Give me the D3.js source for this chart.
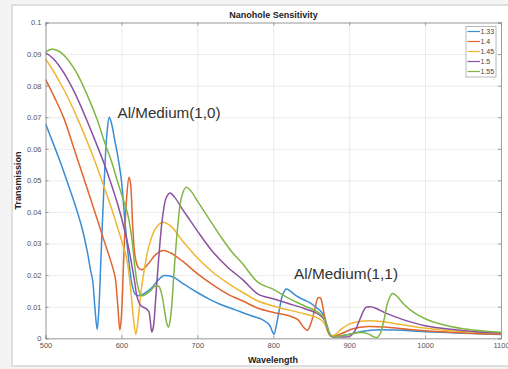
<!DOCTYPE html>
<html>
<head>
<meta charset="utf-8">
<script src="https://cdn.jsdelivr.net/npm/d3@7"></script>
<style>
  html, body { margin: 0; padding: 0; background: #ffffff; }
  svg { display: block; }
  text { font-family: "Liberation Sans", Arial, Helvetica, sans-serif; }
</style>
</head>
<body>
<svg id="chart" width="508" height="369"></svg>
<script>
// Refractive index of the medium for each spectrum
const seriesNames = ["1.33", "1.4", "1.45", "1.5", "1.55"];
const seriesColors = ["#3a8dd3", "#e0652f", "#efb631", "#8c50a0", "#80b643"];

// Wavelength (nm) and transmission samples, one pair of arrays per medium
const wl133 = [500,510,520,528,540,548,555,559,562,565,568,570,573,577,581,584,587,591,595,600,605,610,614,618,622,627,632,640,648,655,662,670,680,690,700,715,730,750,770,785,795,799,801,804,808,812,817,822,830,840,850,858,863,867,871,875,880,890,905,920,940,960,980,1000,1030,1060,1100];
const tr133 = [0.068,0.0618,0.0555,0.050,0.0415,0.035,0.0275,0.022,0.0185,0.010,0.0028,0.008,0.025,0.048,0.065,0.070,0.068,0.063,0.058,0.050,0.036,0.024,0.017,0.014,0.0135,0.0138,0.0145,0.016,0.0183,0.0198,0.0198,0.0192,0.0175,0.016,0.0145,0.0125,0.0108,0.009,0.0072,0.006,0.0042,0.002,0.0013,0.004,0.009,0.0135,0.0156,0.015,0.0135,0.0122,0.011,0.0095,0.0085,0.007,0.004,0.0012,0.0005,0.0008,0.0015,0.0023,0.0027,0.0026,0.0024,0.0021,0.0018,0.0015,0.0012];

const wl140 = [500,512,524,537,550,565,578,585,589,592,595,598,600,603,607,610,612,615,618,622,627,635,645,655,665,680,700,720,740,760,780,800,820,832,840,845,850,855,859,862,866,870,874,880,890,905,925,950,980,1020,1060,1100];
const tr140 = [0.082,0.0762,0.0698,0.0605,0.051,0.040,0.0303,0.0252,0.022,0.019,0.011,0.0026,0.007,0.025,0.045,0.051,0.049,0.035,0.026,0.0225,0.0217,0.0235,0.0265,0.0278,0.027,0.0245,0.0205,0.017,0.014,0.0118,0.0095,0.0082,0.0072,0.006,0.0035,0.0025,0.005,0.0095,0.0128,0.0128,0.009,0.004,0.0012,0.0007,0.0015,0.003,0.0037,0.0035,0.0028,0.0021,0.0016,0.0013];

const wl145 = [500,510,520,530,540,550,560,572,585,595,602,607,612,616,619,622,626,630,636,645,654,665,680,700,720,740,760,780,800,820,840,855,863,868,872,876,882,890,900,915,935,960,990,1030,1070,1100];
const tr145 = [0.0885,0.0848,0.0806,0.076,0.0708,0.0652,0.0592,0.0515,0.0425,0.035,0.0295,0.0252,0.016,0.006,0.0012,0.006,0.015,0.0215,0.029,0.0348,0.0367,0.0355,0.031,0.0255,0.021,0.0175,0.0145,0.0118,0.0102,0.009,0.0078,0.0068,0.0058,0.0045,0.002,0.0007,0.0012,0.003,0.0045,0.0054,0.0055,0.0047,0.0035,0.0025,0.0019,0.0016];

const wl150 = [500,510,520,530,540,554,565,576,585,595,605,612,617,621,626,632,636,638,640,642,645,649,654,659,664,670,680,690,700,720,740,760,780,800,820,840,855,863,868,872,876,885,895,902,908,915,922,928,935,950,970,1000,1040,1070,1100];
const tr150 = [0.0905,0.0886,0.0856,0.0817,0.077,0.0693,0.0628,0.0561,0.050,0.0425,0.0335,0.0255,0.0185,0.0128,0.0102,0.0095,0.0085,0.0055,0.002,0.0035,0.012,0.025,0.038,0.0445,0.046,0.0447,0.041,0.0375,0.034,0.0275,0.0225,0.0185,0.014,0.0125,0.011,0.0095,0.0082,0.007,0.0055,0.0025,0.0006,0.0005,0.0004,0.0008,0.0025,0.0065,0.0098,0.010,0.0095,0.0078,0.006,0.004,0.0027,0.002,0.0017];

const wl155 = [500,508,515,525,540,555,568,578,587,594,602,609,614,618,622,626,631,638,644,649,653,657,660,662,665,669,674,679,685,691,700,715,730,745,760,780,800,820,840,855,863,868,872,876,885,900,915,925,932,937,941,946,951,957,963,972,985,1000,1020,1050,1080,1100];
const tr155 = [0.0907,0.0915,0.0912,0.0895,0.0845,0.077,0.0693,0.062,0.056,0.0503,0.0443,0.0386,0.031,0.022,0.016,0.0135,0.0138,0.015,0.0165,0.0165,0.014,0.0085,0.0045,0.0035,0.007,0.020,0.035,0.0445,0.0478,0.0468,0.0435,0.038,0.0325,0.0275,0.0235,0.0177,0.0155,0.0127,0.0104,0.0088,0.0075,0.0058,0.003,0.0008,0.0006,0.0013,0.0018,0.0014,0.0005,0.0003,0.0015,0.006,0.0115,0.0142,0.0133,0.0108,0.0082,0.0062,0.0045,0.003,0.0022,0.0019];

const xTicks = [500, 600, 700, 800, 900, 1000, 1100];
const yTicks = [0, 0.01, 0.02, 0.03, 0.04, 0.05, 0.06, 0.07, 0.08, 0.09, 0.1];
const yTickLabels = ["0", "0.01", "0.02", "0.03", "0.04", "0.05", "0.06", "0.07", "0.08", "0.09", "0.1"];

const titleText = "Nanohole Sensitivity";
const xLabelText = "Wavelength";
const yLabelText = "Transmission";
const noteTexts = ["Al/Medium(1,0)", "Al/Medium(1,1)"];

const wlArrays = [wl133, wl140, wl145, wl150, wl155];
const trArrays = [tr133, tr140, tr145, tr150, tr155];
const series = seriesNames.map((name, i) => ({
  name,
  color: seriesColors[i],
  points: wlArrays[i].map((w, j) => ({ w, v: trArrays[i][j] }))
}));

const svg = d3.select("#chart");
const W = 508, H = 369;
const plot = { left: 45.5, right: 501, top: 22.5, bottom: 338.3 };

// figure window
svg.append("rect").attr("x", 0).attr("y", 0).attr("width", W).attr("height", H).attr("fill", "#f4f4f4");
svg.append("rect").attr("x", 12).attr("y", 5).attr("width", W).attr("height", 361)
  .attr("fill", "#ffffff").attr("stroke", "#d6d6d6").attr("stroke-width", 1.5);

const x = d3.scaleLinear().domain([500, 1100]).range([plot.left, plot.right]);
const y = d3.scaleLinear().domain([0, 0.1]).range([plot.bottom, plot.top]);

// grid
const grid = svg.append("g").attr("class", "grid");
grid.append("g")
  .attr("transform", `translate(0,${plot.bottom})`)
  .call(d3.axisBottom(x).tickValues(xTicks).tickSize(-(plot.bottom - plot.top)).tickFormat(""))
  .call(g => g.select(".domain").remove())
  .call(g => g.selectAll("line").attr("stroke", "#e6e6e6").attr("stroke-width", 0.8));
grid.append("g")
  .attr("transform", `translate(${plot.left},0)`)
  .call(d3.axisLeft(y).tickValues(yTicks).tickSize(-(plot.right - plot.left)).tickFormat(""))
  .call(g => g.select(".domain").remove())
  .call(g => g.selectAll("line").attr("stroke", "#e6e6e6").attr("stroke-width", 0.8));

// curves
svg.append("clipPath").attr("id", "plotClip")
  .append("rect").attr("x", plot.left).attr("y", plot.top)
  .attr("width", plot.right - plot.left).attr("height", plot.bottom - plot.top);

const line = d3.line()
  .x(d => x(d.w))
  .y(d => y(d.v))
  .curve(d3.curveCatmullRom.alpha(0.5));

svg.append("g").attr("clip-path", "url(#plotClip)")
  .selectAll("path")
  .data(series)
  .join("path")
  .attr("d", d => line(d.points))
  .attr("fill", "none")
  .attr("stroke", d => d.color)
  .attr("stroke-width", 1.5)
  .attr("stroke-linejoin", "round");

// axes (ticks point inward on all four sides)
const axisColor = "#8a8a8a";
const labelColor = "#555555";
function styleAxis(g) {
  g.select(".domain").attr("stroke", axisColor).attr("stroke-width", 0.8);
  g.selectAll(".tick line").attr("stroke", axisColor).attr("stroke-width", 0.8);
  g.selectAll(".tick text").attr("fill", labelColor).style("font-size", "7.5px")
    .style("font-family", "'Liberation Sans', Arial, sans-serif");
}
svg.append("g")
  .attr("transform", `translate(0,${plot.bottom})`)
  .call(d3.axisBottom(x).tickValues(xTicks).tickSize(-3).tickPadding(4).tickFormat(d3.format("d")))
  .call(styleAxis);
svg.append("g")
  .attr("transform", `translate(${plot.left},0)`)
  .call(d3.axisLeft(y).tickValues(yTicks).tickSize(-3).tickPadding(4)
    .tickFormat((d, i) => yTickLabels[i]))
  .call(styleAxis);
svg.append("g")
  .attr("transform", `translate(0,${plot.top})`)
  .call(d3.axisTop(x).tickValues(xTicks).tickSize(-3).tickFormat(""))
  .call(styleAxis);
svg.append("g")
  .attr("transform", `translate(${plot.right},0)`)
  .call(d3.axisRight(y).tickValues(yTicks).tickSize(-3).tickFormat(""))
  .call(styleAxis);

// titles
svg.append("text").attr("x", 273.5).attr("y", 18).attr("text-anchor", "middle")
  .style("font-size", "9px").style("font-weight", "bold").attr("fill", "#222").text(titleText);
svg.append("text").attr("x", 273).attr("y", 363).attr("text-anchor", "middle")
  .style("font-size", "9px").style("font-weight", "bold").attr("fill", "#222").text(xLabelText);
svg.append("text").attr("transform", "translate(21,180.4) rotate(-90)").attr("text-anchor", "middle")
  .style("font-size", "9px").style("font-weight", "bold").attr("fill", "#222").text(yLabelText);

// mode annotations
svg.append("text").attr("x", 117.5).attr("y", 117.5)
  .attr("textLength", 103).attr("lengthAdjust", "spacingAndGlyphs")
  .style("font-size", "14px").attr("fill", "#333").text(noteTexts[0]);
svg.append("text").attr("x", 294).attr("y", 279)
  .attr("textLength", 104).attr("lengthAdjust", "spacingAndGlyphs")
  .style("font-size", "14px").attr("fill", "#333").text(noteTexts[1]);

// legend
const leg = svg.append("g").attr("transform", "translate(466,26.5)");
leg.append("rect").attr("width", 30).attr("height", 50.5)
  .attr("fill", "#ffffff").attr("stroke", "#a8a8a8").attr("stroke-width", 0.8);
const items = leg.selectAll("g.item").data(series).join("g").attr("class", "item")
  .attr("transform", (d, i) => `translate(0,${5 + i * 10})`);
items.append("line").attr("x1", 1.5).attr("x2", 14).attr("y1", 0).attr("y2", 0)
  .attr("stroke", d => d.color).attr("stroke-width", 1.2);
items.append("text").attr("x", 14.5).attr("y", 2.5)
  .style("font-size", "7px").attr("fill", "#444").text(d => d.name);
</script>
</body>
</html>
